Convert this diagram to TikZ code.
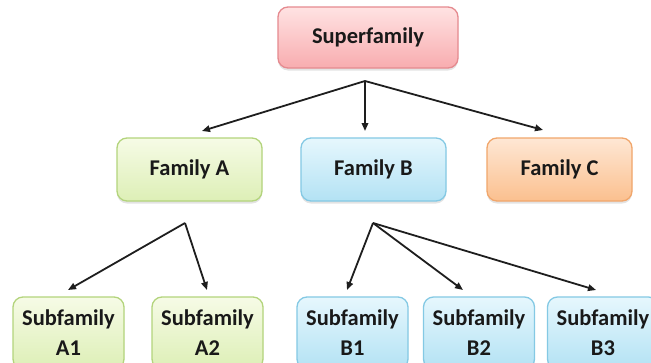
\documentclass[tikz,border=0pt]{standalone}
\usepackage{fontspec}
\setmainfont{Carlito}
\usetikzlibrary{arrows.meta,shadows}

\definecolor{pinkTop}{HTML}{FFE3E3}
\definecolor{pinkBot}{HTML}{F8ACAF}
\definecolor{pinkLine}{HTML}{E58A8F}
\definecolor{greenTop}{HTML}{F6FBE6}
\definecolor{greenBot}{HTML}{DDEFB6}
\definecolor{greenLine}{HTML}{B3D47C}
\definecolor{blueTop}{HTML}{E6F7FD}
\definecolor{blueBot}{HTML}{B3E2F4}
\definecolor{blueLine}{HTML}{84C9E4}
\definecolor{orangeTop}{HTML}{FEE7D4}
\definecolor{orangeBot}{HTML}{FBC08F}
\definecolor{orangeLine}{HTML}{F1A66B}
\definecolor{arrowInk}{HTML}{1E1E1E}

\tikzset{
  box/.style={rounded corners=10pt, line width=1.3pt, inner sep=0pt, align=center,
    font=\fontsize{22.5}{30}\selectfont\bfseries, text=black!90,
    drop shadow={opacity=0.22, shadow xshift=0pt, shadow yshift=-2.5pt}},
  pinkbox/.style={box, draw=pinkLine, top color=pinkTop, bottom color=pinkBot},
  greenbox/.style={box, draw=greenLine, top color=greenTop, bottom color=greenBot},
  bluebox/.style={box, draw=blueLine, top color=blueTop, bottom color=blueBot},
  orangebox/.style={box, draw=orangeLine, top color=orangeTop, bottom color=orangeBot},
  famsize/.style={minimum width=145pt, minimum height=63pt},
  subsize/.style={minimum width=111pt, minimum height=72pt},
  link/.style={draw=arrowInk, line width=1.8pt, -{Triangle[length=8pt,width=6.5pt]}}
}

\begin{document}
\begin{tikzpicture}[x=1pt,y=-1pt]
  \useasboundingbox (0,0) rectangle (651,362);
  \clip (0,0) rectangle (651,362);
  \fill[white] (0,0) rectangle (651,362);

  % top level
  \node[pinkbox, minimum width=180pt, minimum height=61pt] (sup) at (368,37.5) {Superfamily};

  % families
  \node[greenbox, famsize]  (fa) at (189.5,169.5) {Family A};
  \node[bluebox, famsize]   (fb) at (373.5,169.5) {Family B};
  \node[orangebox, famsize] (fc) at (559.5,169.5) {Family C};

  % subfamilies
  \node[greenbox, subsize] (a1) at (68.5,333)  {Subfamily\\A1};
  \node[greenbox, subsize] (a2) at (207.5,333) {Subfamily\\A2};
  \node[bluebox, subsize]  (b1) at (352.5,333) {Subfamily\\B1};
  \node[bluebox, subsize]  (b2) at (479,333)   {Subfamily\\B2};
  \node[bluebox, subsize]  (b3) at (603,333)   {Subfamily\\B3};

  % fork points and arrow ends
  \coordinate (supfork) at (365,81);
  \coordinate (tofa) at (202,131);
  \coordinate (tofb) at (365,131);
  \coordinate (tofc) at (543,130);

  \coordinate (fafork) at (185,223);
  \coordinate (toa1) at (68,290);
  \coordinate (toa2) at (207,290);

  \coordinate (fbfork) at (373,223);
  \coordinate (tob1) at (347,290);
  \coordinate (tob2) at (463,290);
  \coordinate (tob3) at (596,290);

  \draw[link] (supfork) -- (tofa);
  \draw[link] (supfork) -- (tofb);
  \draw[link] (supfork) -- (tofc);

  \draw[link] (fafork) -- (toa1);
  \draw[link] (fafork) -- (toa2);

  \draw[link] (fbfork) -- (tob1);
  \draw[link] (fbfork) -- (tob2);
  \draw[link] (fbfork) -- (tob3);
\end{tikzpicture}
\end{document}
